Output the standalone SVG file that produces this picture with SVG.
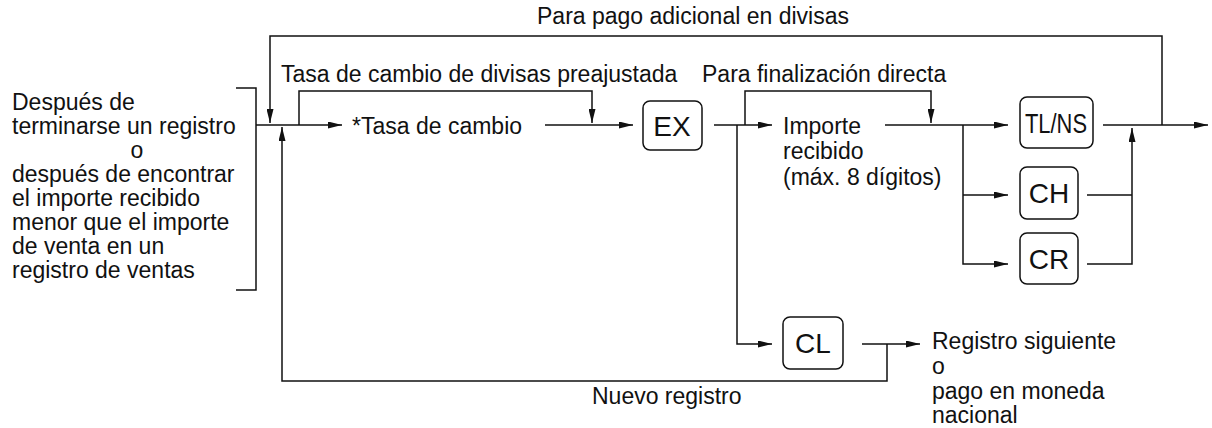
<svg xmlns="http://www.w3.org/2000/svg" width="1212" height="428" viewBox="0 0 1212 428">
<style>
text{font-family:"Liberation Sans",Arial,sans-serif;font-size:23px;fill:#111}
.k{font-size:28px;text-anchor:middle}
.b{fill:#fff;stroke:#111;stroke-width:1.5}
.c path{fill:none;stroke:#111;stroke-width:1.5}
</style>
<defs><marker id="a" viewBox="0 0 14 7" refX="14" refY="3.5" markerWidth="14" markerHeight="7" markerUnits="userSpaceOnUse" orient="auto"><path d="M0,0L14,3.5L0,7z" fill="#111"/></marker></defs>
<g class="c">
<path d="M236,88H256V290H236"/>
<path d="M256,125H342" marker-end="url(#a)"/>
<path d="M1162,125V36H270V123" marker-end="url(#a)"/>
<path d="M887,344V381H282V127" marker-end="url(#a)"/>
<path d="M299,125V91H592V123" marker-end="url(#a)"/>
<path d="M545,125H633" marker-end="url(#a)"/>
<path d="M714,125H772" marker-end="url(#a)"/>
<path d="M737,125V344H772" marker-end="url(#a)"/>
<path d="M745,125V91H931V123" marker-end="url(#a)"/>
<path d="M885,125H1008" marker-end="url(#a)"/>
<path d="M963,125V264H1008" marker-end="url(#a)"/>
<path d="M963,195H1008" marker-end="url(#a)"/>
<path d="M1103,125H1208" marker-end="url(#a)"/>
<path d="M1087,195H1132M1087,264H1132V128" marker-end="url(#a)"/>
<path d="M862,344H920" marker-end="url(#a)"/>
</g>
<g id="left"><text x="12" y="110">Después de</text><text x="12" y="134">terminarse un registro</text><text x="137" y="158" text-anchor="middle">o</text><text x="12" y="182">después de encontrar</text><text x="12" y="206">el importe recibido</text><text x="12" y="230">menor que el importe</text><text x="12" y="254">de venta en un</text><text x="12" y="278">registro de ventas</text></g>
<text x="537" y="24">Para pago adicional en divisas</text>
<text x="281" y="82" font-size="20">Tasa de cambio de divisas preajustada</text>
<text x="702" y="82">Para finalización directa</text>
<g id="rate"><text x="352" y="134">*Tasa de cambio</text></g>
<g id="EX"><rect class="b" x="643" y="101" width="59" height="49" rx="7"/><text class="k" x="672" y="136">EX</text></g>
<g id="imp"><text x="783" y="134">Importe</text><text x="783" y="159">recibido</text><text x="783" y="185">(máx. 8 dígitos)</text></g>
<g id="TLNS"><rect class="b" x="1020" y="97" width="73" height="51" rx="7"/><text class="k" x="1056" y="133" textLength="62" lengthAdjust="spacingAndGlyphs">TL/NS</text></g>
<g id="CH"><rect class="b" x="1020" y="167" width="58" height="52" rx="7"/><text class="k" x="1049" y="203">CH</text></g>
<g id="CR"><rect class="b" x="1020" y="233" width="58" height="51" rx="7"/><text class="k" x="1049" y="269">CR</text></g>
<g id="CL"><rect class="b" x="783" y="317" width="60" height="52" rx="7"/><text class="k" x="813" y="353">CL</text></g>
<g id="next"><text x="932" y="349">Registro siguiente</text><text x="932" y="374">o</text><text x="932" y="399">pago en moneda</text><text x="932" y="423">nacional</text></g>
<text x="592" y="404">Nuevo registro</text>
</svg>
